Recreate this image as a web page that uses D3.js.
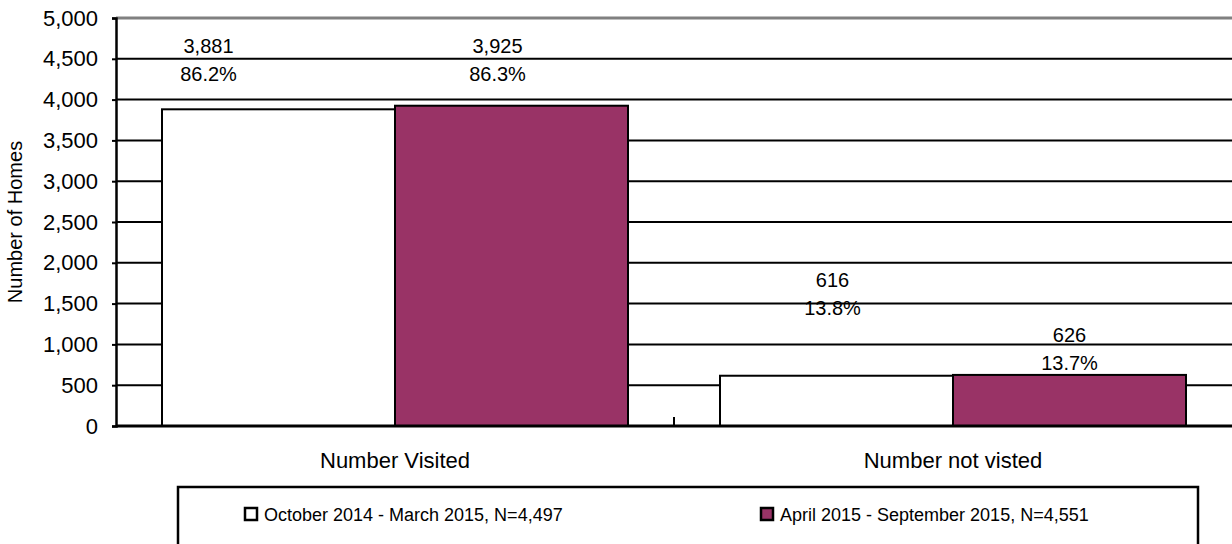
<!DOCTYPE html>
<html>
<head>
<meta charset="utf-8">
<script src="https://cdn.jsdelivr.net/npm/d3@7"></script>
<style>
  body { margin: 0; background: #fff; }
  text { font-family: "Liberation Sans", Arial, sans-serif; fill: #000; }
</style>
</head>
<body>
<div id="chart"></div>
<script>
// chart data
const categories = ["Number Visited", "Number not visted"];
const seriesNames = ["October 2014 - March 2015, N=4,497", "April 2015 - September 2015, N=4,551"];
const octMar = [3881, 616];
const aprSep = [3925, 626];
const pctOctMar = ["86.2%", "13.8%"];
const pctAprSep = ["86.3%", "13.7%"];
const yTicks = [0, 500, 1000, 1500, 2000, 2500, 3000, 3500, 4000, 4500, 5000];

// label anchors (value units), as placed in the original
const labelAtOctMar = [4660, 1790];
const labelAtAprSep = [4660, 1120];

const series_colors = ["#ffffff", "#993366"];

const total_width = 1232;
const total_height = 544;
const plot = {left: 116, right: 1232, top: 18, bottom: 426};
const labelDx = [[-70, -4], [-14, 0]];

var svg = d3.select("#chart")
  .append("svg")
  .attr("width", total_width)
  .attr("height", total_height);

var y = d3.scaleLinear().domain([0, 5000]).range([plot.bottom, plot.top]);
var x0 = d3.scaleBand().domain(categories).range([plot.left, plot.right]);
var x1 = d3.scaleBand().domain([0, 1]).range([46, x0.bandwidth() - 46]);

// gridlines
svg.append("g").selectAll("line").data(yTicks.filter(d => d > 0)).enter().append("line")
  .attr("x1", plot.left).attr("x2", plot.right)
  .attr("y1", d => y(d)).attr("y2", d => y(d))
  .attr("stroke", d => d === 5000 ? "#808080" : "#000")
  .attr("stroke-width", d => d === 5000 ? 3 : 2);

// bars
var rows = categories.map((c, i) => ({cat: c, vals: [octMar[i], aprSep[i]], pcts: [pctOctMar[i], pctAprSep[i]], at: [labelAtOctMar[i], labelAtAprSep[i]], idx: i}));

var groups = svg.append("g").selectAll("g").data(rows).enter().append("g")
  .attr("transform", d => "translate(" + x0(d.cat) + ",0)");

groups.selectAll("rect").data(d => d.vals.map((v, s) => ({v: v, s: s}))).enter().append("rect")
  .attr("x", d => x1(d.s))
  .attr("y", d => y(d.v))
  .attr("width", x1.bandwidth())
  .attr("height", d => y(0) - y(d.v))
  .attr("fill", d => series_colors[d.s])
  .attr("stroke", "#000")
  .attr("stroke-width", 2);

// value labels
groups.each(function(d) {
  var g = d3.select(this);
  [0, 1].forEach(function(s) {
    var cx = x1(s) + x1.bandwidth() / 2 + labelDx[s][d.idx];
    g.append("text").attr("text-anchor", "middle").attr("font-size", 20)
      .attr("x", cx).attr("y", y(d.at[s])).attr("dy", "0.35em")
      .text(d3.format(",")(d.vals[s]));
    g.append("text").attr("text-anchor", "middle").attr("font-size", 20)
      .attr("x", cx).attr("y", y(d.at[s]) + 28).attr("dy", "0.35em")
      .text(d.pcts[s]);
  });
});

// y axis
var yAxis = d3.axisLeft(y).tickValues(yTicks).tickFormat(d3.format(",")).tickSize(4).tickPadding(14);
var ya = svg.append("g").attr("transform", "translate(" + plot.left + ",0)").call(yAxis);
ya.select(".domain").attr("stroke", "#000").attr("stroke-width", 2.5);
ya.selectAll(".tick line").attr("stroke", "#000").attr("stroke-width", 2);
ya.selectAll(".tick text").attr("font-size", 22).style("font-family", "Liberation Sans, Arial, sans-serif");

// x axis
svg.append("line").attr("x1", plot.left).attr("x2", plot.right)
  .attr("y1", y(0)).attr("y2", y(0)).attr("stroke", "#000").attr("stroke-width", 3);
svg.append("g").selectAll("line").data(categories.slice(1)).enter().append("line")
  .attr("x1", d => x0(d)).attr("x2", d => x0(d))
  .attr("y1", y(0)).attr("y2", y(0) - 9)
  .attr("stroke", "#000").attr("stroke-width", 2);
svg.append("g").selectAll("text").data(categories).enter().append("text")
  .attr("x", d => x0(d) + x0.bandwidth() / 2).attr("y", 460).attr("dy", "0.35em")
  .attr("text-anchor", "middle").attr("font-size", 22).text(d => d);

// y title
svg.append("text").attr("transform", "translate(22," + (plot.top + plot.bottom) / 2 + ") rotate(-90)")
  .attr("text-anchor", "middle").attr("font-size", 20).text("Number of Homes");

// legend
var legend = svg.append("g");
legend.append("rect").attr("x", 178).attr("y", 487).attr("width", 1020).attr("height", 80)
  .attr("fill", "#fff").attr("stroke", "#000").attr("stroke-width", 2.5);
var legendX = [245, 761];
var items = legend.selectAll("g").data(seriesNames).enter().append("g")
  .attr("transform", (d, i) => "translate(" + legendX[i] + ",508)");
items.append("rect").attr("width", 12).attr("height", 12)
  .attr("fill", (d, i) => series_colors[i]).attr("stroke", "#000").attr("stroke-width", 2.5);
items.append("text").attr("x", 19).attr("y", 6.5).attr("dy", "0.35em").attr("font-size", 18).text(d => d);
</script>
</body>
</html>
